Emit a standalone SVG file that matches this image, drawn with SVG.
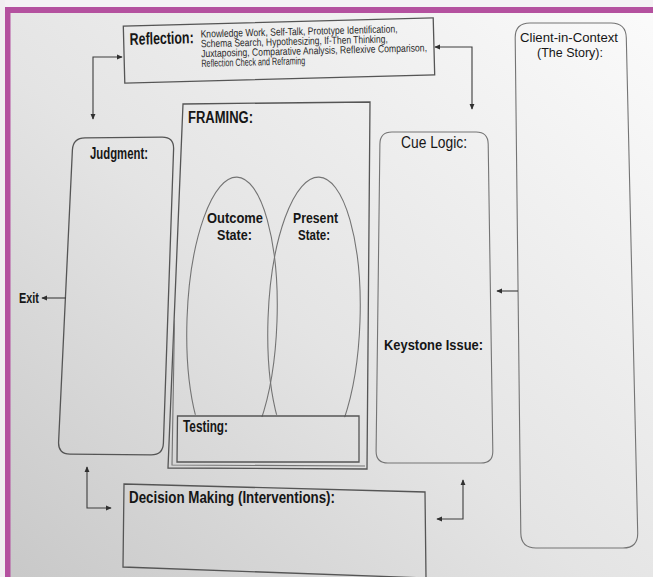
<svg xmlns="http://www.w3.org/2000/svg" width="653" height="577" viewBox="0 0 653 577">
<defs>
<style>
.box{fill:none;stroke:#555;stroke-width:1.3}
.thin{fill:none;stroke:#747474;stroke-width:1.1}
.conn{fill:none;stroke:#3c3c3c;stroke-width:1.1}
.t{font-family:"Liberation Sans Narrow","Liberation Sans",Arial,sans-serif;fill:#161616}
.b{font-weight:bold}
.s{font-size:10.5px;fill:#2a2a2a}
</style>
<linearGradient id="bg" x1="0" y1="1" x2="1" y2="0">
<stop offset="0" stop-color="#c8c8c8"/>
<stop offset="0.45" stop-color="#e4e4e4"/>
<stop offset="1" stop-color="#fbfbfb"/>
</linearGradient>
<marker id="ah" viewBox="0 0 8 8" refX="7" refY="4" markerWidth="5.5" markerHeight="5.5" orient="auto-start-reverse">
<path d="M0,0.6 L8,4 L0,7.4 Z" fill="#303030"/>
</marker>
<clipPath id="clipE"><rect x="150" y="100" width="250" height="316"/></clipPath>
</defs>

<rect x="0" y="0" width="653" height="577" fill="url(#bg)"/>
<rect x="0" y="0" width="653" height="7" fill="#f4f2f4"/>
<rect x="0" y="0" width="5" height="577" fill="#f1eff1"/>
<rect x="5" y="7" width="648" height="6" fill="#b4519f"/>
<rect x="5" y="7" width="5.5" height="570" fill="#b4519f"/>

<g id="reflection" transform="rotate(-1.5 279 50.5)">
<rect class="box" x="124" y="22" width="310" height="57"/>
<text class="t b" x="130" y="41" font-size="17" textLength="64" lengthAdjust="spacingAndGlyphs">Reflection:</text>
<text class="t s" x="201" y="35.5" textLength="197" lengthAdjust="spacingAndGlyphs">Knowledge Work, Self-Talk, Prototype Identification,</text>
<text class="t s" x="201" y="45.3" textLength="187" lengthAdjust="spacingAndGlyphs">Schema Search, Hypothesizing, If-Then Thinking,</text>
<text class="t s" x="201" y="55.1" textLength="226" lengthAdjust="spacingAndGlyphs">Juxtaposing, Comparative Analysis, Reflexive Comparison,</text>
<text class="t s" x="201" y="64.9" textLength="104" lengthAdjust="spacingAndGlyphs">Reflection Check and Reframing</text>
</g>

<g id="client">
<path class="thin" d="M530,23 L611,23 Q626,23 626.3,38 L637.7,533 Q638,548 623,548 L536,548 Q521,548 520.8,533 L515.2,38 Q515,23 530,23 Z"/>
<text class="t" x="569" y="42" font-size="13.5" text-anchor="middle" textLength="98" lengthAdjust="spacingAndGlyphs">Client-in-Context</text>
<text class="t" x="570" y="56.5" font-size="13.5" text-anchor="middle" textLength="66" lengthAdjust="spacingAndGlyphs">(The Story):</text>
</g>

<g id="judgment">
<path class="box" d="M85,137.9 L162,137.1 Q174,137 173.6,149 L163.4,443 Q163,455 151,454.9 L70,454.1 Q58,454 58.6,442 L72.4,150 Q73,138 85,137.9 Z"/>
<text class="t b" x="90" y="159" font-size="16" textLength="58" lengthAdjust="spacingAndGlyphs">Judgment:</text>
</g>

<g id="exit">
<text class="t b" x="19" y="302.5" font-size="15" textLength="20" lengthAdjust="spacingAndGlyphs">Exit</text>
</g>

<g id="framing">
<path class="box" d="M183,104 L370,102 L367,469 L168,468 Z"/>
<path class="thin" d="M174.5,320 L172,465 L365,466"/>
<text class="t b" x="188" y="123" font-size="16" textLength="65" lengthAdjust="spacingAndGlyphs">FRAMING:</text>
</g>

<g id="outcome-state">
<ellipse class="thin" cx="232" cy="320" rx="45" ry="143" transform="rotate(2 232 320)" clip-path="url(#clipE)"/>
<text class="t b" x="235" y="223" font-size="15" text-anchor="middle" textLength="56" lengthAdjust="spacingAndGlyphs">Outcome</text>
<text class="t b" x="234.5" y="240" font-size="15" text-anchor="middle" textLength="35" lengthAdjust="spacingAndGlyphs">State:</text>
</g>

<g id="present-state">
<ellipse class="thin" cx="314" cy="320" rx="46" ry="143" transform="rotate(2 314 320)" clip-path="url(#clipE)"/>
<text class="t b" x="315.5" y="223" font-size="15" text-anchor="middle" textLength="45" lengthAdjust="spacingAndGlyphs">Present</text>
<text class="t b" x="314" y="240" font-size="15" text-anchor="middle" textLength="32" lengthAdjust="spacingAndGlyphs">State:</text>
</g>

<g id="testing">
<path class="box" d="M177.5,416 L359,416 L359,462 L177,462 Z"/>
<text class="t b" x="183" y="432" font-size="16" textLength="45" lengthAdjust="spacingAndGlyphs">Testing:</text>
</g>

<g id="cue-logic">
<path class="thin" d="M392,132 L476,132 Q488,132 488.2,144 L492.8,451 Q493,463 481,463 L388,463 Q376,463 376.1,451 L379.9,144 Q380,132 392,132 Z"/>
<text class="t" x="401" y="148" font-size="16" textLength="66" lengthAdjust="spacingAndGlyphs">Cue Logic:</text>
<text class="t b" x="384" y="350" font-size="15" textLength="99" lengthAdjust="spacingAndGlyphs">Keystone Issue:</text>
</g>

<g id="decision">
<path class="box" d="M124,484 L425,492 L426,578 L123,567 Z"/>
<text class="t b" x="129" y="503" font-size="16" textLength="206" lengthAdjust="spacingAndGlyphs">Decision Making (Interventions):</text>
</g>

<g id="connectors">
<path class="conn" d="M93,119 L93,57 L122,57" marker-start="url(#ah)" marker-end="url(#ah)"/>
<path class="conn" d="M435,47 L472,47 L472,109" marker-start="url(#ah)" marker-end="url(#ah)"/>
<path class="conn" d="M66,298 L42,298" marker-end="url(#ah)"/>
<path class="conn" d="M518,291 L497,291" marker-end="url(#ah)"/>
<path class="conn" d="M87,467 L87,508 L111,508" marker-start="url(#ah)" marker-end="url(#ah)"/>
<path class="conn" d="M463,480 L463,519 L437,519" marker-start="url(#ah)" marker-end="url(#ah)"/>
</g>
</svg>
